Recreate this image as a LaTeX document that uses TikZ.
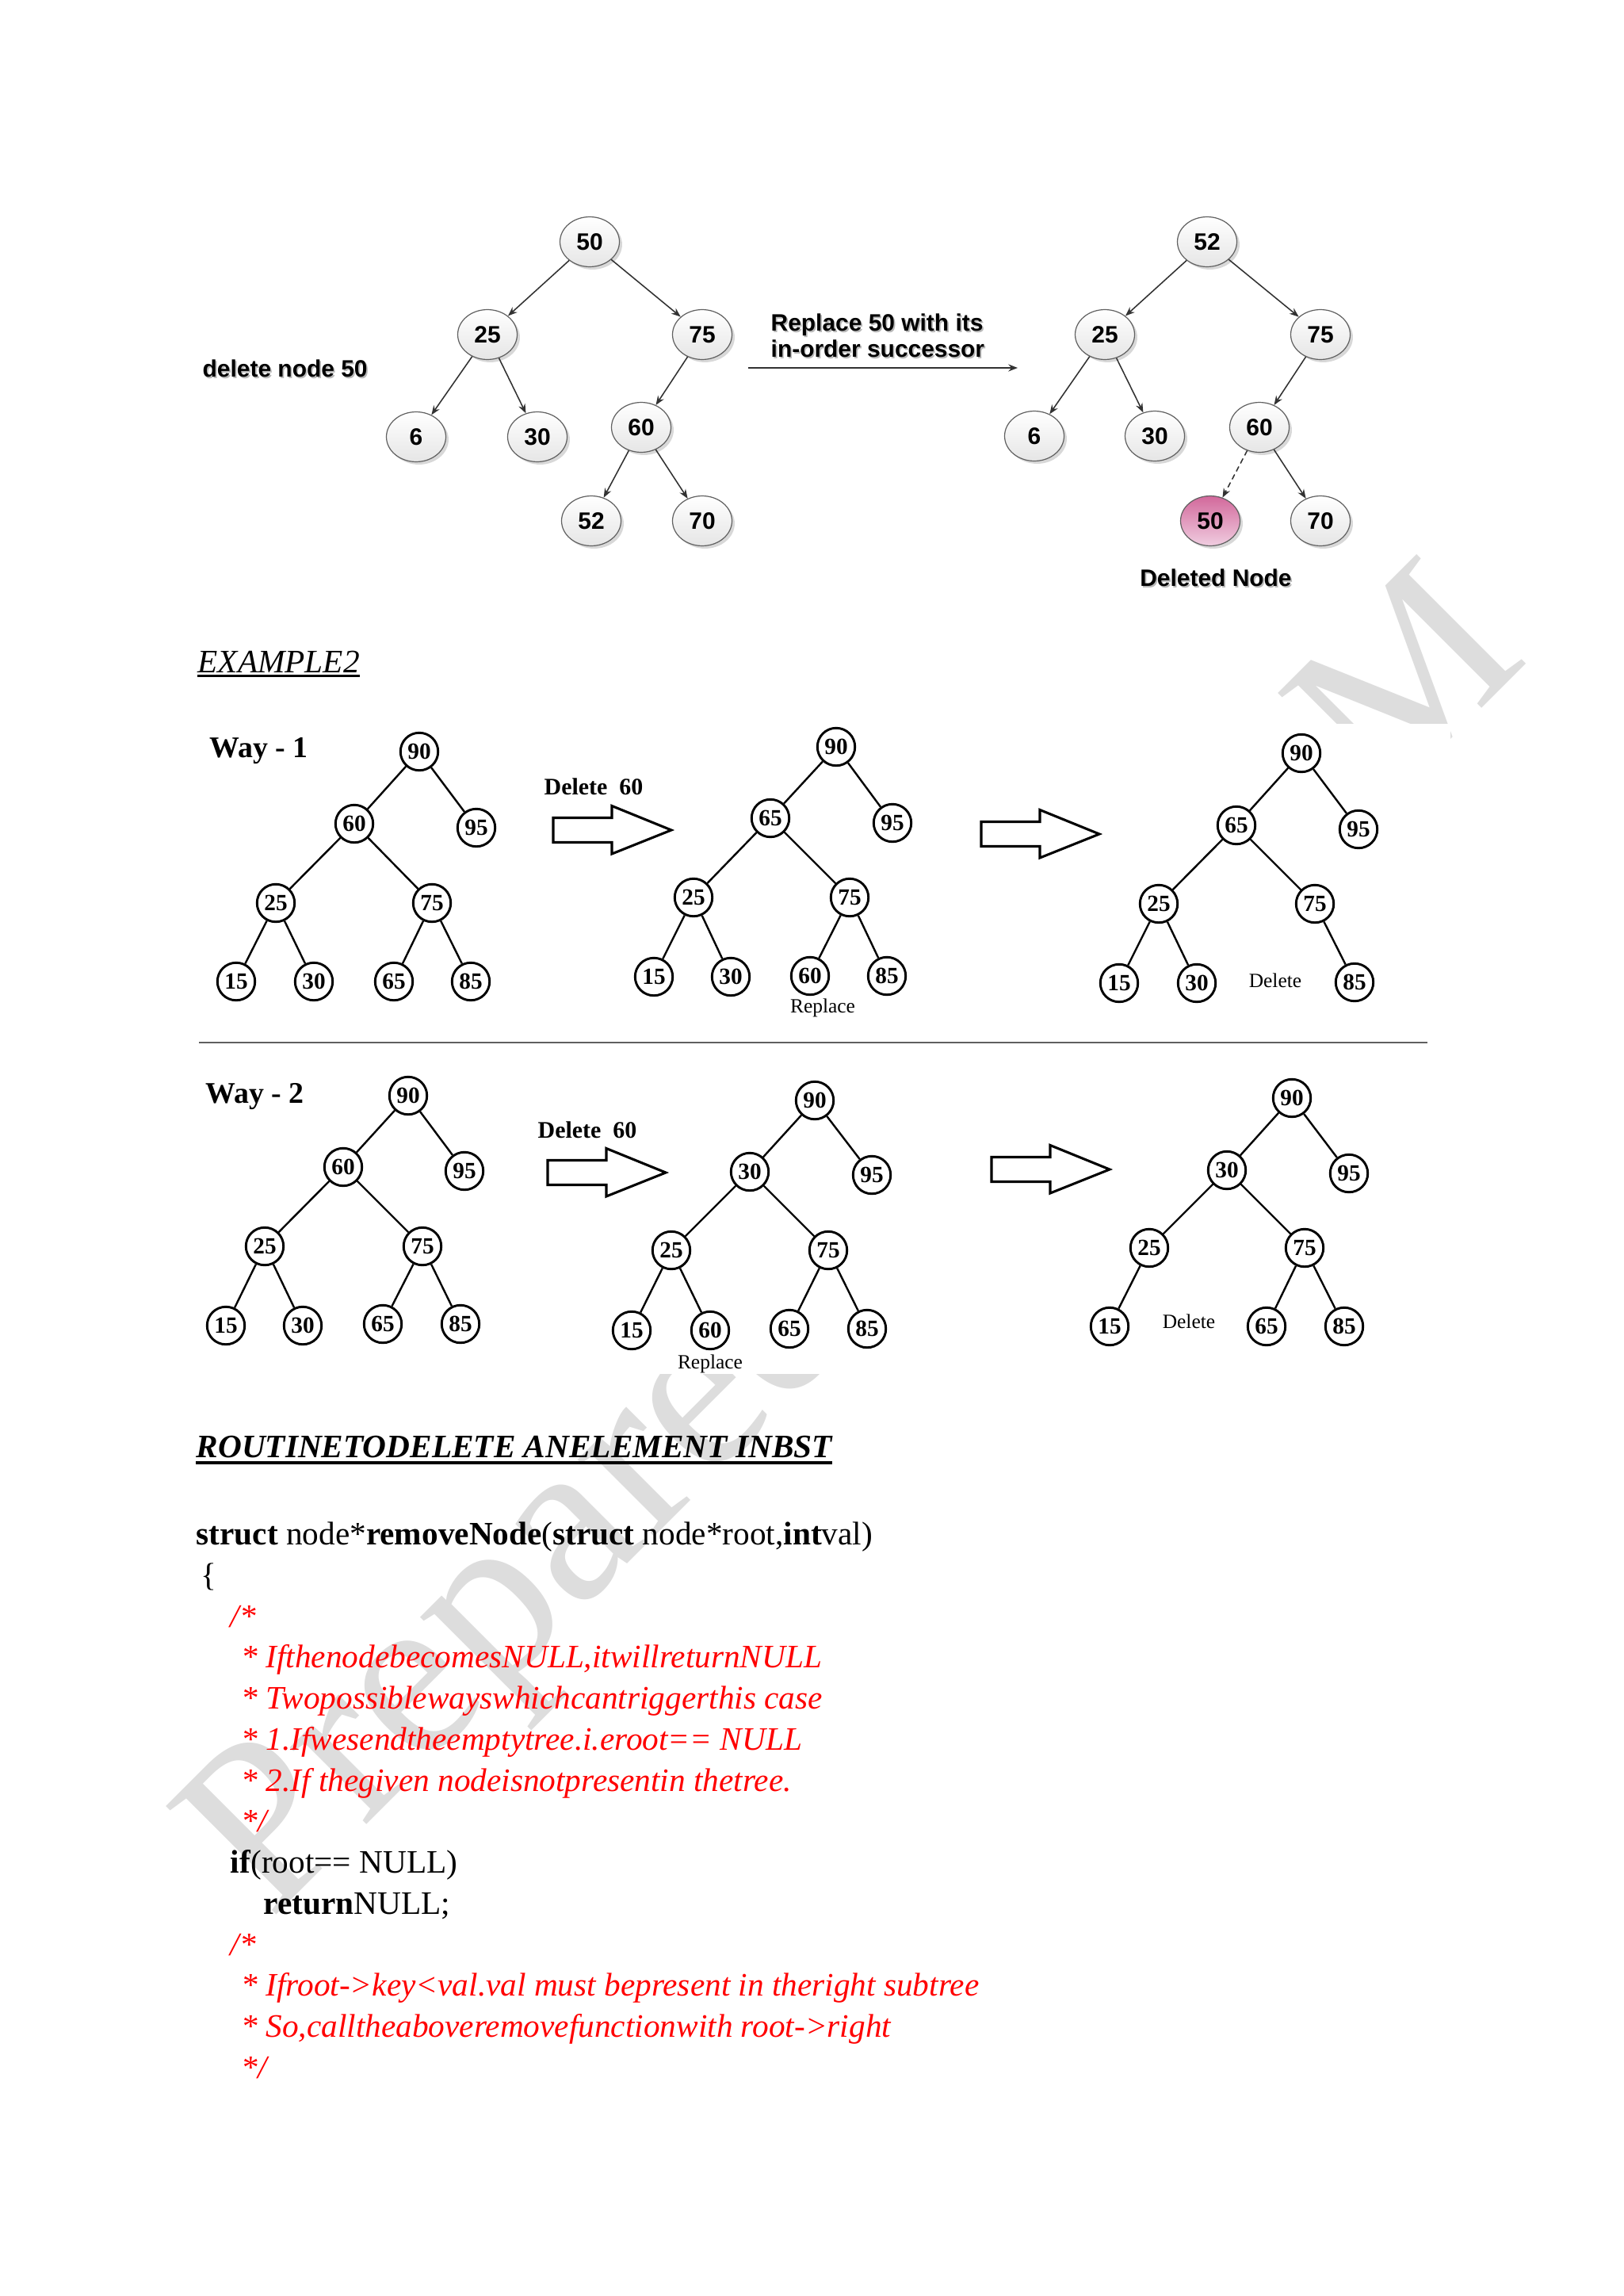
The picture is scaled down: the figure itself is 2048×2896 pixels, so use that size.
\documentclass[tikz,border=0pt]{standalone}
\usepackage{fontspec}
\setmainfont{Liberation Serif}
\setsansfont{Liberation Sans}
\usetikzlibrary{shapes.geometric,arrows.meta,shadows}
\definecolor{wm}{RGB}{221,221,221}
\definecolor{edgegray}{RGB}{50,50,50}
\definecolor{pinktop}{RGB}{210,104,155}
\definecolor{pinkbot}{RGB}{240,205,224}
\definecolor{sepgray}{RGB}{95,95,95}
\newcommand\shtxt[1]{\leavevmode\rlap{\hspace{0.5pt}\raisebox{-0.5pt}{\textcolor{gray!55}{#1}}}#1}
\newcommand\hollowarr[2]{%
  \draw[hollowarrow] ({#1},{#2-15.5}) -- ++(74,0) -- ++(0,-15) -- ({#1+149},{#2})
    -- ({#1+74},{#2+30}) -- ++(0,-14.5) -- ({#1},{#2+15.5}) -- cycle;}
\tikzset{
  enode/.style={ellipse, draw=gray!75!black, line width=0.35pt, minimum width=21.8pt,
    minimum height=18.3pt, inner sep=0pt, top color=white, bottom color=gray!20,
    drop shadow={opacity=0.3, shadow xshift=1pt, shadow yshift=-1pt},
    font=\sffamily\bfseries\fontsize{8.7}{9}\selectfont},
  pinknode/.style={enode, top color=pinktop, bottom color=pinkbot},
  tedge/.style={draw=edgegray, line width=0.45pt, -{Stealth[length=3.4pt,width=2.6pt]}},
  toplabel/.style={inner sep=0pt, font=\sffamily\bfseries\fontsize{8.7}{8.4}\selectfont},
  cnode/.style={circle, draw, line width=0.85pt, minimum size=13.8pt, inner sep=0pt,
    font=\bfseries\fontsize{8.5}{9}\selectfont},
  cedge/.style={line width=0.7pt},
  smalllabel/.style={inner sep=0pt, font=\fontsize{7.4}{8}\selectfont},
  waylabel/.style={anchor=base west, inner sep=0pt, font=\bfseries\fontsize{11}{12}\selectfont},
  dellabel/.style={anchor=base west, inner sep=0pt, font=\bfseries\fontsize{8.7}{9}\selectfont},
  hollowarrow/.style={draw, line width=0.9pt, line join=miter},
  codeline/.style={anchor=base west, inner sep=0pt, font=\fontsize{12}{14}\selectfont},
  cmtline/.style={anchor=base west, inner sep=0pt, text=red, font=\itshape\fontsize{12}{14}\selectfont},
  wmark/.style={anchor=base west, inner sep=0pt, rotate=45, text=wm, font=\fontsize{86.6}{90}\selectfont},
}
\begin{document}
\begin{tikzpicture}[x=0.290672pt, y=-0.290672pt]
\useasboundingbox (0,0) rectangle (2048,2896);
\fill[white] (0,0) rectangle (2048,2896);

% watermark (partly hidden behind the pictures)
\node[wmark] (wm1) at (341,2423) {Prepared by};
\node[wmark] (wm2) at (1744,1019) {M};
\fill[white] (230,913) rectangle (1830,1733);

% ---------------- top picture ----------------
\node[toplabel, anchor=west] (dn) at (255,466) {\shtxt{delete node 50}};
\node[enode] (a50) at (744,305) {50};
\node[enode] (a25) at (615,422) {25};
\node[enode] (a75) at (886,422) {75};
\node[enode] (a6) at (525,551) {6};
\node[enode] (a30) at (678,551) {30};
\node[enode] (a60) at (809,539) {60};
\node[enode] (a52) at (746,657) {52};
\node[enode] (a70) at (886,657) {70};
\draw[tedge] (a50) -- (a25);
\draw[tedge] (a50) -- (a75);
\draw[tedge] (a25) -- (a6);
\draw[tedge] (a25) -- (a30);
\draw[tedge] (a75) -- (a60);
\draw[tedge] (a60) -- (a52);
\draw[tedge] (a60) -- (a70);

\node[toplabel, anchor=west, align=left] (rl) at (972,424) {\shtxt{Replace 50 with its}\\\shtxt{in-order successor}};
\coordinate (rs) at (944,464);
\coordinate (re) at (1284,464);
\draw[tedge] (rs) -- (re);

\node[enode] (b52) at (1523,305) {52};
\node[enode] (b25) at (1394,422) {25};
\node[enode] (b75) at (1666,422) {75};
\node[enode] (b6) at (1305,550) {6};
\node[enode] (b30) at (1457,550) {30};
\node[enode] (b60) at (1589,539) {60};
\node[pinknode] (b50) at (1527,657) {50};
\node[enode] (b70) at (1666,657) {70};
\draw[tedge] (b52) -- (b25);
\draw[tedge] (b52) -- (b75);
\draw[tedge] (b25) -- (b6);
\draw[tedge] (b25) -- (b30);
\draw[tedge] (b75) -- (b60);
\draw[tedge, dash pattern=on 2pt off 1.3pt] (b60) -- (b50);
\draw[tedge] (b60) -- (b70);
\node[toplabel] (deln) at (1534,730) {\shtxt{Deleted Node}};

% ---------------- EXAMPLE2 ----------------
\node[codeline, font=\itshape\fontsize{12}{14}\selectfont] (ex2) at (249,848) {EXAMPLE2};
\draw[line width=0.6pt] ([yshift=-1.3pt]ex2.base west) -- ([yshift=-1.3pt]ex2.base east);

% ---------------- Way 1 ----------------
\node[waylabel] (way1) at (264,955) {Way - 1};
\node[cnode] (p90) at (529,948) {90};
\node[cnode] (p60) at (447,1039) {60};
\node[cnode] (p95) at (601,1044) {95};
\node[cnode] (p25) at (348,1139) {25};
\node[cnode] (p75) at (545,1139) {75};
\node[cnode] (p15) at (298,1238) {15};
\node[cnode] (p30) at (396,1238) {30};
\node[cnode] (p65) at (497,1238) {65};
\node[cnode] (p85) at (594,1238) {85};
\draw[cedge] (p90) -- (p60); \draw[cedge] (p90) -- (p95);
\draw[cedge] (p60) -- (p25); \draw[cedge] (p60) -- (p75);
\draw[cedge] (p25) -- (p15); \draw[cedge] (p25) -- (p30);
\draw[cedge] (p75) -- (p65); \draw[cedge] (p75) -- (p85);

\node[dellabel] (d1) at (686,1002) {Delete\ \ 60};
\hollowarr{698}{1047}

\node[cnode] (q90) at (1055,942) {90};
\node[cnode] (q65) at (972,1032) {65};
\node[cnode] (q95) at (1126,1038) {95};
\node[cnode] (q25) at (875,1132) {25};
\node[cnode] (q75) at (1072,1132) {75};
\node[cnode] (q15) at (825,1232) {15};
\node[cnode] (q30) at (922,1232) {30};
\node[cnode] (q60) at (1022,1231) {60};
\node[cnode] (q85) at (1119,1231) {85};
\draw[cedge] (q90) -- (q65); \draw[cedge] (q90) -- (q95);
\draw[cedge] (q65) -- (q25); \draw[cedge] (q65) -- (q75);
\draw[cedge] (q25) -- (q15); \draw[cedge] (q25) -- (q30);
\draw[cedge] (q75) -- (q60); \draw[cedge] (q75) -- (q85);
\node[smalllabel] (rep1) at (1038,1271) {Replace};

\hollowarr{1238}{1052}

\node[cnode] (r90) at (1642,950) {90};
\node[cnode] (r65) at (1560,1041) {65};
\node[cnode] (r95) at (1714,1046) {95};
\node[cnode] (r25) at (1462,1140) {25};
\node[cnode] (r75) at (1659,1140) {75};
\node[cnode] (r15) at (1412,1240) {15};
\node[cnode] (r30) at (1510,1240) {30};
\node[cnode] (r85) at (1709,1239) {85};
\draw[cedge] (r90) -- (r65); \draw[cedge] (r90) -- (r95);
\draw[cedge] (r65) -- (r25); \draw[cedge] (r65) -- (r75);
\draw[cedge] (r25) -- (r15); \draw[cedge] (r25) -- (r30);
\draw[cedge] (r75) -- (r85);
\node[smalllabel] (del1) at (1609,1237) {Delete};

\coordinate (sepL) at (251,1315);
\coordinate (sepR) at (1801,1315);
\draw[sepgray, line width=0.7pt] (sepL) -- (sepR);

% ---------------- Way 2 ----------------
\node[waylabel] (way2) at (259,1391) {Way - 2};
\node[cnode] (s90) at (515,1382) {90};
\node[cnode] (s60) at (433,1472) {60};
\node[cnode] (s95) at (586,1477) {95};
\node[cnode] (s25) at (334,1572) {25};
\node[cnode] (s75) at (533,1572) {75};
\node[cnode] (s15) at (285,1672) {15};
\node[cnode] (s30) at (382,1672) {30};
\node[cnode] (s65) at (483,1670) {65};
\node[cnode] (s85) at (581,1670) {85};
\draw[cedge] (s90) -- (s60); \draw[cedge] (s90) -- (s95);
\draw[cedge] (s60) -- (s25); \draw[cedge] (s60) -- (s75);
\draw[cedge] (s25) -- (s15); \draw[cedge] (s25) -- (s30);
\draw[cedge] (s75) -- (s65); \draw[cedge] (s75) -- (s85);

\node[dellabel] (d2) at (678,1435) {Delete\ \ 60};
\hollowarr{691}{1479}

\node[cnode] (t90) at (1028,1388) {90};
\node[cnode] (t30) at (946,1478) {30};
\node[cnode] (t95) at (1100,1482) {95};
\node[cnode] (t25) at (847,1577) {25};
\node[cnode] (t75) at (1045,1577) {75};
\node[cnode] (t15) at (797,1678) {15};
\node[cnode] (t60) at (896,1678) {60};
\node[cnode] (t65) at (996,1676) {65};
\node[cnode] (t85) at (1094,1676) {85};
\draw[cedge] (t90) -- (t30); \draw[cedge] (t90) -- (t95);
\draw[cedge] (t30) -- (t25); \draw[cedge] (t30) -- (t75);
\draw[cedge] (t25) -- (t15); \draw[cedge] (t25) -- (t60);
\draw[cedge] (t75) -- (t65); \draw[cedge] (t75) -- (t85);
\node[smalllabel] (rep2) at (896,1720) {Replace};

\hollowarr{1251}{1475}

\node[cnode] (u90) at (1630,1385) {90};
\node[cnode] (u30) at (1548,1476) {30};
\node[cnode] (u95) at (1702,1480) {95};
\node[cnode] (u25) at (1450,1574) {25};
\node[cnode] (u75) at (1646,1574) {75};
\node[cnode] (u15) at (1400,1673) {15};
\node[cnode] (u65) at (1598,1673) {65};
\node[cnode] (u85) at (1696,1673) {85};
\draw[cedge] (u90) -- (u30); \draw[cedge] (u90) -- (u95);
\draw[cedge] (u30) -- (u25); \draw[cedge] (u30) -- (u75);
\draw[cedge] (u25) -- (u15);
\draw[cedge] (u75) -- (u65); \draw[cedge] (u75) -- (u85);
\node[smalllabel] (del2) at (1500,1667) {Delete};

% ---------------- routine ----------------
\node[codeline, font=\bfseries\itshape\fontsize{12}{14}\selectfont] (hd) at (247,1838) {ROUTINETODELETE ANELEMENT INBST};
\draw[line width=1.3pt] ([yshift=-2.1pt]hd.base west) -- ([yshift=-2.1pt]hd.base east);

\node[codeline] (c1) at (247,1948) {\textbf{struct} node*\textbf{removeNode}(\textbf{struct} node*root,\textbf{int}val)};
\node[codeline] (c2) at (253,2000) {\{};
\node[cmtline] (c3) at (290,2052) {/*};
\node[cmtline] (c4) at (304,2103) {* IfthenodebecomesNULL,itwillreturnNULL};
\node[cmtline] (c5) at (304,2155) {* Twopossiblewayswhichcantriggerthis case};
\node[cmtline] (c6) at (304,2207) {* 1.Ifwesendtheemptytree.i.eroot== NULL};
\node[cmtline] (c7) at (304,2259) {* 2.If thegiven nodeisnotpresentin thetree.};
\node[cmtline] (c8) at (304,2310) {*/};
\node[codeline] (c9) at (290,2362) {\textbf{if}(root== NULL)};
\node[codeline] (c10) at (332,2414) {\textbf{return}NULL;};
\node[cmtline] (c11) at (290,2466) {/*};
\node[cmtline] (c12) at (304,2517) {* Ifroot->key<val.val must bepresent in theright subtree};
\node[cmtline] (c13) at (304,2569) {* So,calltheaboveremovefunctionwith root->right};
\node[cmtline] (c14) at (304,2621) {*/};
\end{tikzpicture}
\end{document}
